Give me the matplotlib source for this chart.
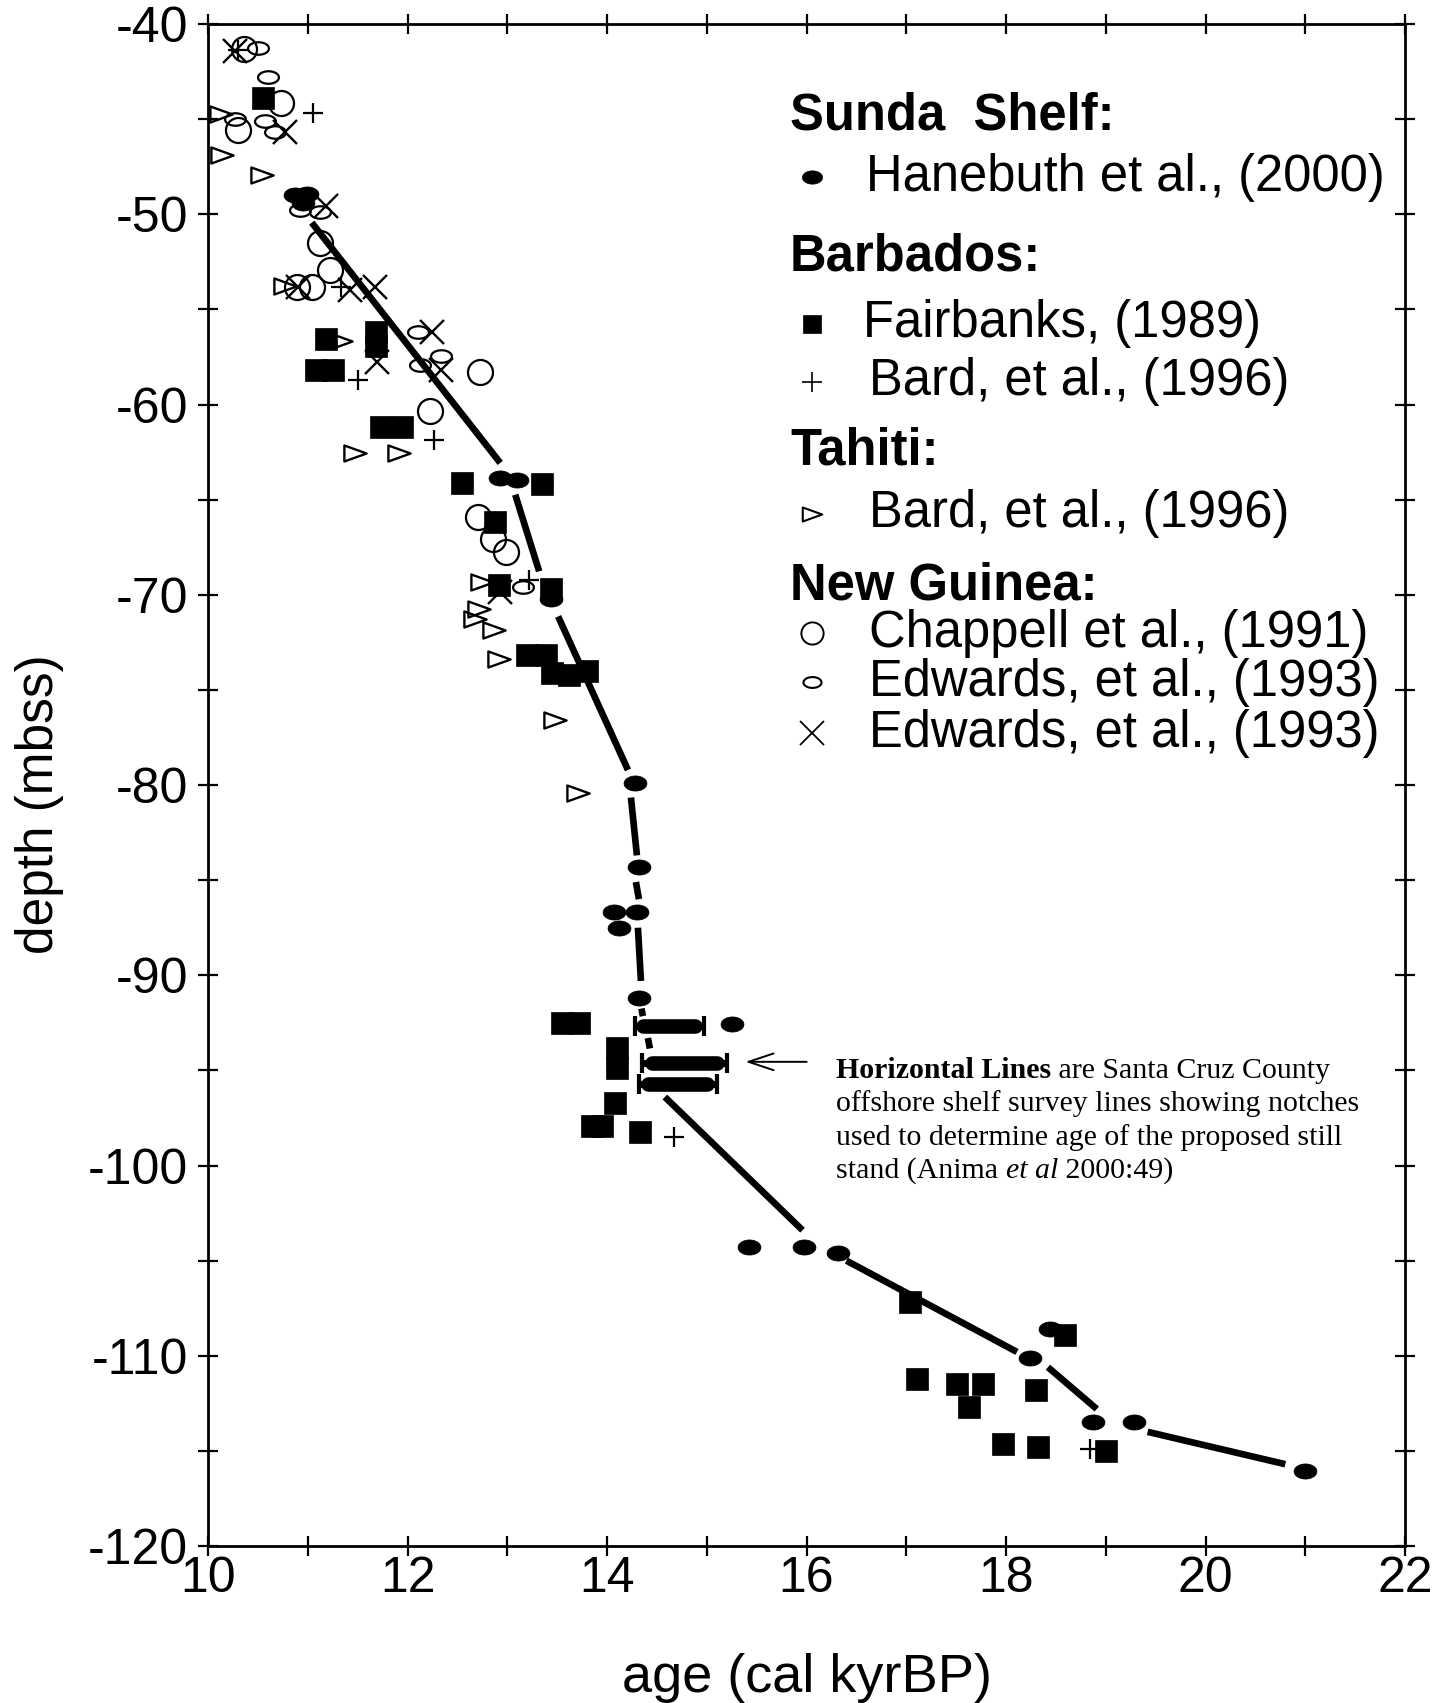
import numpy as np
import matplotlib
matplotlib.use("Agg")
import matplotlib.pyplot as plt
from matplotlib.path import Path
from matplotlib.ticker import MultipleLocator, FuncFormatter
from matplotlib.lines import Line2D

plt.rcParams['font.family'] = ['Liberation Sans', 'DejaVu Sans']
plt.rcParams['axes.unicode_minus'] = False

# ---------------- data (age in cal kyr BP, depth in m below sea surface) ----------
# Sunda Shelf - Hanebuth et al. (2000)
hanebuth_age = [10.87, 10.99, 10.95, 12.93, 13.10, 13.44, 14.28, 14.32, 14.07, 14.30,
                14.12, 14.32, 15.25, 15.42, 15.97, 16.32, 18.24, 18.44, 18.87, 19.28, 21.0]
hanebuth_depth = [-49.0, -48.95, -49.4, -63.86, -63.95, -70.2, -79.9, -84.33, -86.65, -86.65,
                  -87.5, -91.19, -92.55, -104.3, -104.3, -104.6, -110.1, -108.6, -113.5, -113.5, -116.05]

# Barbados - Fairbanks (1989)
fairbanks_age = [10.55, 11.18, 11.08, 11.25, 11.68, 11.68, 11.73, 11.94, 12.55, 13.35,
                 12.88, 12.92, 13.44, 13.20, 13.39, 13.45, 13.62, 13.80, 13.55, 13.72,
                 14.10, 14.10, 14.08, 13.85, 13.95, 14.33, 17.04, 17.11, 17.51, 17.77,
                 17.63, 18.30, 18.59, 17.97, 18.32, 19.0]
fairbanks_depth = [-43.9, -56.58, -58.17, -58.17, -56.2, -56.9, -61.17, -61.17, -64.12, -64.17,
                   -66.2, -69.47, -69.7, -73.16, -73.16, -74.12, -74.2, -74.0, -92.5, -92.5,
                   -93.83, -94.9, -96.7, -97.9, -97.9, -98.25, -107.2, -111.2, -111.5, -111.5,
                   -112.7, -111.8, -108.9, -114.65, -114.8, -115.0]

# Barbados - Bard et al. (1996)
bard_b_age = [10.30, 11.05, 11.50, 12.27, 11.33, 13.22, 14.67, 18.84]
bard_b_depth = [-41.35, -44.7, -58.7, -61.84, -53.8, -69.2, -98.5, -114.9]

# Tahiti - Bard et al. (1996)
tahiti_age = [10.13, 10.14, 10.54, 10.77, 11.33, 11.47, 11.91, 12.75, 12.72, 12.68,
              12.87, 12.92, 13.48, 13.71]
tahiti_depth = [-44.75, -46.9, -47.95, -53.75, -56.65, -62.55, -62.55, -69.35, -70.75, -71.3,
                -71.85, -73.4, -76.6, -80.4]

# New Guinea - Chappell et al. (1991)
chappell_age = [10.36, 10.73, 10.30, 11.12, 11.22, 10.89, 11.04, 12.73, 12.23, 12.71, 12.86, 12.99]
chappell_depth = [-41.3, -44.15, -45.55, -51.5, -52.95, -53.8, -53.8, -58.3, -60.33, -65.9,
                  -67.05, -67.75]

# New Guinea - Edwards et al. (1993), small ellipses
edwards_o_age = [10.50, 10.60, 10.57, 10.27, 10.67, 10.92, 11.12, 12.11, 12.13, 12.34, 13.16]
edwards_o_depth = [-41.25, -42.8, -45.1, -45.0, -45.7, -49.8, -49.9, -56.2, -57.9, -57.45, -69.6]

# New Guinea - Edwards et al. (1993), crosses
edwards_x_age = [10.27, 10.77, 11.18, 10.90, 11.42, 11.67, 11.69, 12.25, 12.34, 12.93]
edwards_x_depth = [-41.4, -45.7, -49.55, -53.8, -54.0, -53.8, -57.75, -56.2, -58.2, -69.85]

# Sea-level curve drawn as separate segments (start / end)
seg_age0 = [11.04, 13.08, 13.51, 14.24, 14.29, 14.31, 14.345, 14.41, 14.58, 16.40, 18.42, 19.42]
seg_dep0 = [-50.44, -64.74, -71.14, -80.66, -85.1, -87.5, -91.75, -93.3, -96.4, -105.0, -110.6, -114.0]
seg_age1 = [12.93, 13.32, 14.21, 14.30, 14.32, 14.34, 14.36, 14.43, 15.96, 18.11, 18.91, 20.8]
seg_dep1 = [-63.07, -68.77, -79.21, -83.7, -86.0, -90.3, -92.15, -93.85, -103.4, -109.8, -112.8, -115.7]

# Santa Cruz County offshore shelf survey lines (horizontal lines)
sc_depth = [-92.65, -94.6, -95.7]
sc_start = [14.28, 14.35, 14.32]
sc_end = [14.97, 15.20, 15.10]

x_ticklabels = ['10', '12', '14', '16', '18', '20', '22']
y_ticklabels = ['-40', '-50', '-60', '-70', '-80', '-90', '-100', '-110', '-120']

# ---------------- figure ----------------
W, H = 1440, 1703
fig = plt.figure(figsize=(W / 100, H / 100), dpi=100)
fig.patch.set_facecolor('white')
ax = fig.add_axes([208 / W, 1 - 1546 / H, (1405 - 208) / W, (1546 - 24) / H])


def ellipse_path(aspect):
    t = np.linspace(0, 2 * np.pi, 64)
    v = np.column_stack([np.cos(t), aspect * np.sin(t)])
    return Path(v, closed=True)


ELL_H = ellipse_path(0.66)
ELL_E = ellipse_path(0.60)
TRI = Path([(-1, -0.72), (1, 0), (-1, 0.72), (-1, -0.72)], closed=True)

# curve segments
for a0, d0, a1, d1 in zip(seg_age0, seg_dep0, seg_age1, seg_dep1):
    ax.plot([a0, a1], [d0, d1], color='black', lw=4.8, solid_capstyle='butt', zorder=2)

# Santa Cruz lines
for d, s, e in zip(sc_depth, sc_start, sc_end):
    ax.errorbar([(s + e) / 2], [d], xerr=[(e - s) / 2], fmt='none', ecolor='black',
                elinewidth=5, capsize=7, capthick=3, zorder=3)
    m = 0.12 * (e - s)
    ax.plot([s + m, e - m], [d, d], color='black', lw=10.5, solid_capstyle='round', zorder=3)

ax.annotate('', xy=(15.36, -94.55), xytext=(16.03, -94.55),
            arrowprops=dict(arrowstyle='->,head_length=1.8,head_width=0.6', lw=1.4, color='black'))

# markers
ax.plot(fairbanks_age, fairbanks_depth, ls='none', marker='s', ms=16.5, mfc='black',
        mec='black', mew=0.5, zorder=4)
ax.plot(chappell_age, chappell_depth, ls='none', marker='o', ms=18, mfc='none',
        mec='black', mew=1.6, zorder=5)
ax.plot(edwards_o_age, edwards_o_depth, ls='none', marker=ELL_E, ms=15, mfc='none',
        mec='black', mew=1.6, zorder=5)
ax.plot(edwards_x_age, edwards_x_depth, ls='none', marker='x', ms=17, mec='black',
        mew=1.7, zorder=5)
ax.plot(tahiti_age, tahiti_depth, ls='none', marker=TRI, ms=16, mfc='none',
        mec='black', mew=1.7, zorder=5)
ax.plot(bard_b_age, bard_b_depth, ls='none', marker='+', ms=15, mec='black',
        mew=1.6, zorder=5)
ax.plot(hanebuth_age, hanebuth_depth, ls='none', marker=ELL_H, ms=16.5, mfc='black',
        mec='black', mew=0.5, zorder=6)

# axes styling
ax.set_xlim(10, 22)
ax.set_ylim(-120, -40)
ax.xaxis.set_major_locator(MultipleLocator(1))
ax.yaxis.set_major_locator(MultipleLocator(5))
xt = {int(s): s for s in x_ticklabels}
yt = {int(s): s for s in y_ticklabels}
ax.xaxis.set_major_formatter(FuncFormatter(lambda v, p: xt.get(int(round(v)), '') if abs(v - round(v)) < 1e-6 else ''))
ax.yaxis.set_major_formatter(FuncFormatter(lambda v, p: yt.get(int(round(v)), '') if abs(v - round(v)) < 1e-6 else ''))
ax.tick_params(axis='both', which='major', direction='inout', length=15, width=1.6,
               labelsize=36, top=True, right=True)
ax.tick_params(axis='x', pad=0)
ax.tick_params(axis='y', pad=7)
for sp in ax.spines.values():
    sp.set_linewidth(2)

ax.set_xlabel('age (cal kyrBP)', fontsize=39)
ax.set_ylabel('depth (mbss)', fontsize=37)
ax.xaxis.label.set_va('center')
ax.xaxis.set_label_coords(0.5, (1546 - 1678) / 1522)
ax.yaxis.label.set_va('center')
ax.yaxis.set_label_coords((40 - 208) / 1197, (1546 - 804) / 1522)


# ---------------- legend (manual) ----------------
def fx(px):
    return px / W


def fy(py):
    return 1 - py / H


LFS = 36.5
hx = 790
fig.text(fx(hx), fy(116), 'Sunda  Shelf:', fontsize=LFS, fontweight='bold', va='center', ha='left')
fig.text(fx(hx), fy(257), 'Barbados:', fontsize=LFS, fontweight='bold', va='center', ha='left')
fig.text(fx(hx), fy(451), 'Tahiti:', fontsize=LFS, fontweight='bold', va='center', ha='left')
fig.text(fx(hx), fy(586), 'New Guinea:', fontsize=LFS, fontweight='bold', va='center', ha='left')

items = [
    (177, 866, 'Hanebuth et al., (2000)', dict(marker=ELL_H, ms=14.5, mfc='black', mec='black', mew=0.5)),
    (324, 863, 'Fairbanks, (1989)', dict(marker='s', ms=13, mfc='black', mec='black', mew=0.5)),
    (382, 869, 'Bard, et al., (1996)', dict(marker='+', ms=14, mec='black', mew=1.2)),
    (514, 869, 'Bard, et al., (1996)', dict(marker=TRI, ms=14, mfc='none', mec='black', mew=1.5)),
    (633, 869, 'Chappell et al., (1991)', dict(marker='o', ms=16, mfc='none', mec='black', mew=1.4)),
    (682, 869, 'Edwards, et al., (1993)', dict(marker=ELL_E, ms=13, mfc='none', mec='black', mew=1.5)),
    (733, 869, 'Edwards, et al., (1993)', dict(marker='x', ms=17, mec='black', mew=1.3)),
]
for ypx, tx, label, mk in items:
    fig.add_artist(Line2D([fx(812)], [fy(ypx)], transform=fig.transFigure, ls='none', **mk))
    fig.text(fx(tx), fy(ypx), label, fontsize=LFS, va='center', ha='left')

# ---------------- annotation text (serif, mixed styles) ----------------
SF = ['Liberation Serif', 'DejaVu Serif']
AFS = 21.5
lines = [
    [('Horizontal Lines', dict(fontweight='bold')), (' are Santa Cruz County', {})],
    [('offshore shelf survey lines showing notches', {})],
    [('used to determine age of the proposed still', {})],
    [('stand (Anima ', {}), ('et al', dict(fontstyle='italic')), (' 2000:49)', {})],
]
ys = [1070, 1104, 1138, 1171]
for ypx, parts in zip(ys, lines):
    prev = None
    for s, kw in parts:
        if prev is None:
            prev = fig.text(fx(836), fy(ypx), s, fontsize=AFS, family=SF, va='center', ha='left', **kw)
        else:
            prev = ax.annotate(s, xy=(1, 0), xycoords=prev, va='bottom', ha='left',
                               fontsize=AFS, family=SF, **kw)

fig.savefig('out.png', dpi=100, facecolor='white')
